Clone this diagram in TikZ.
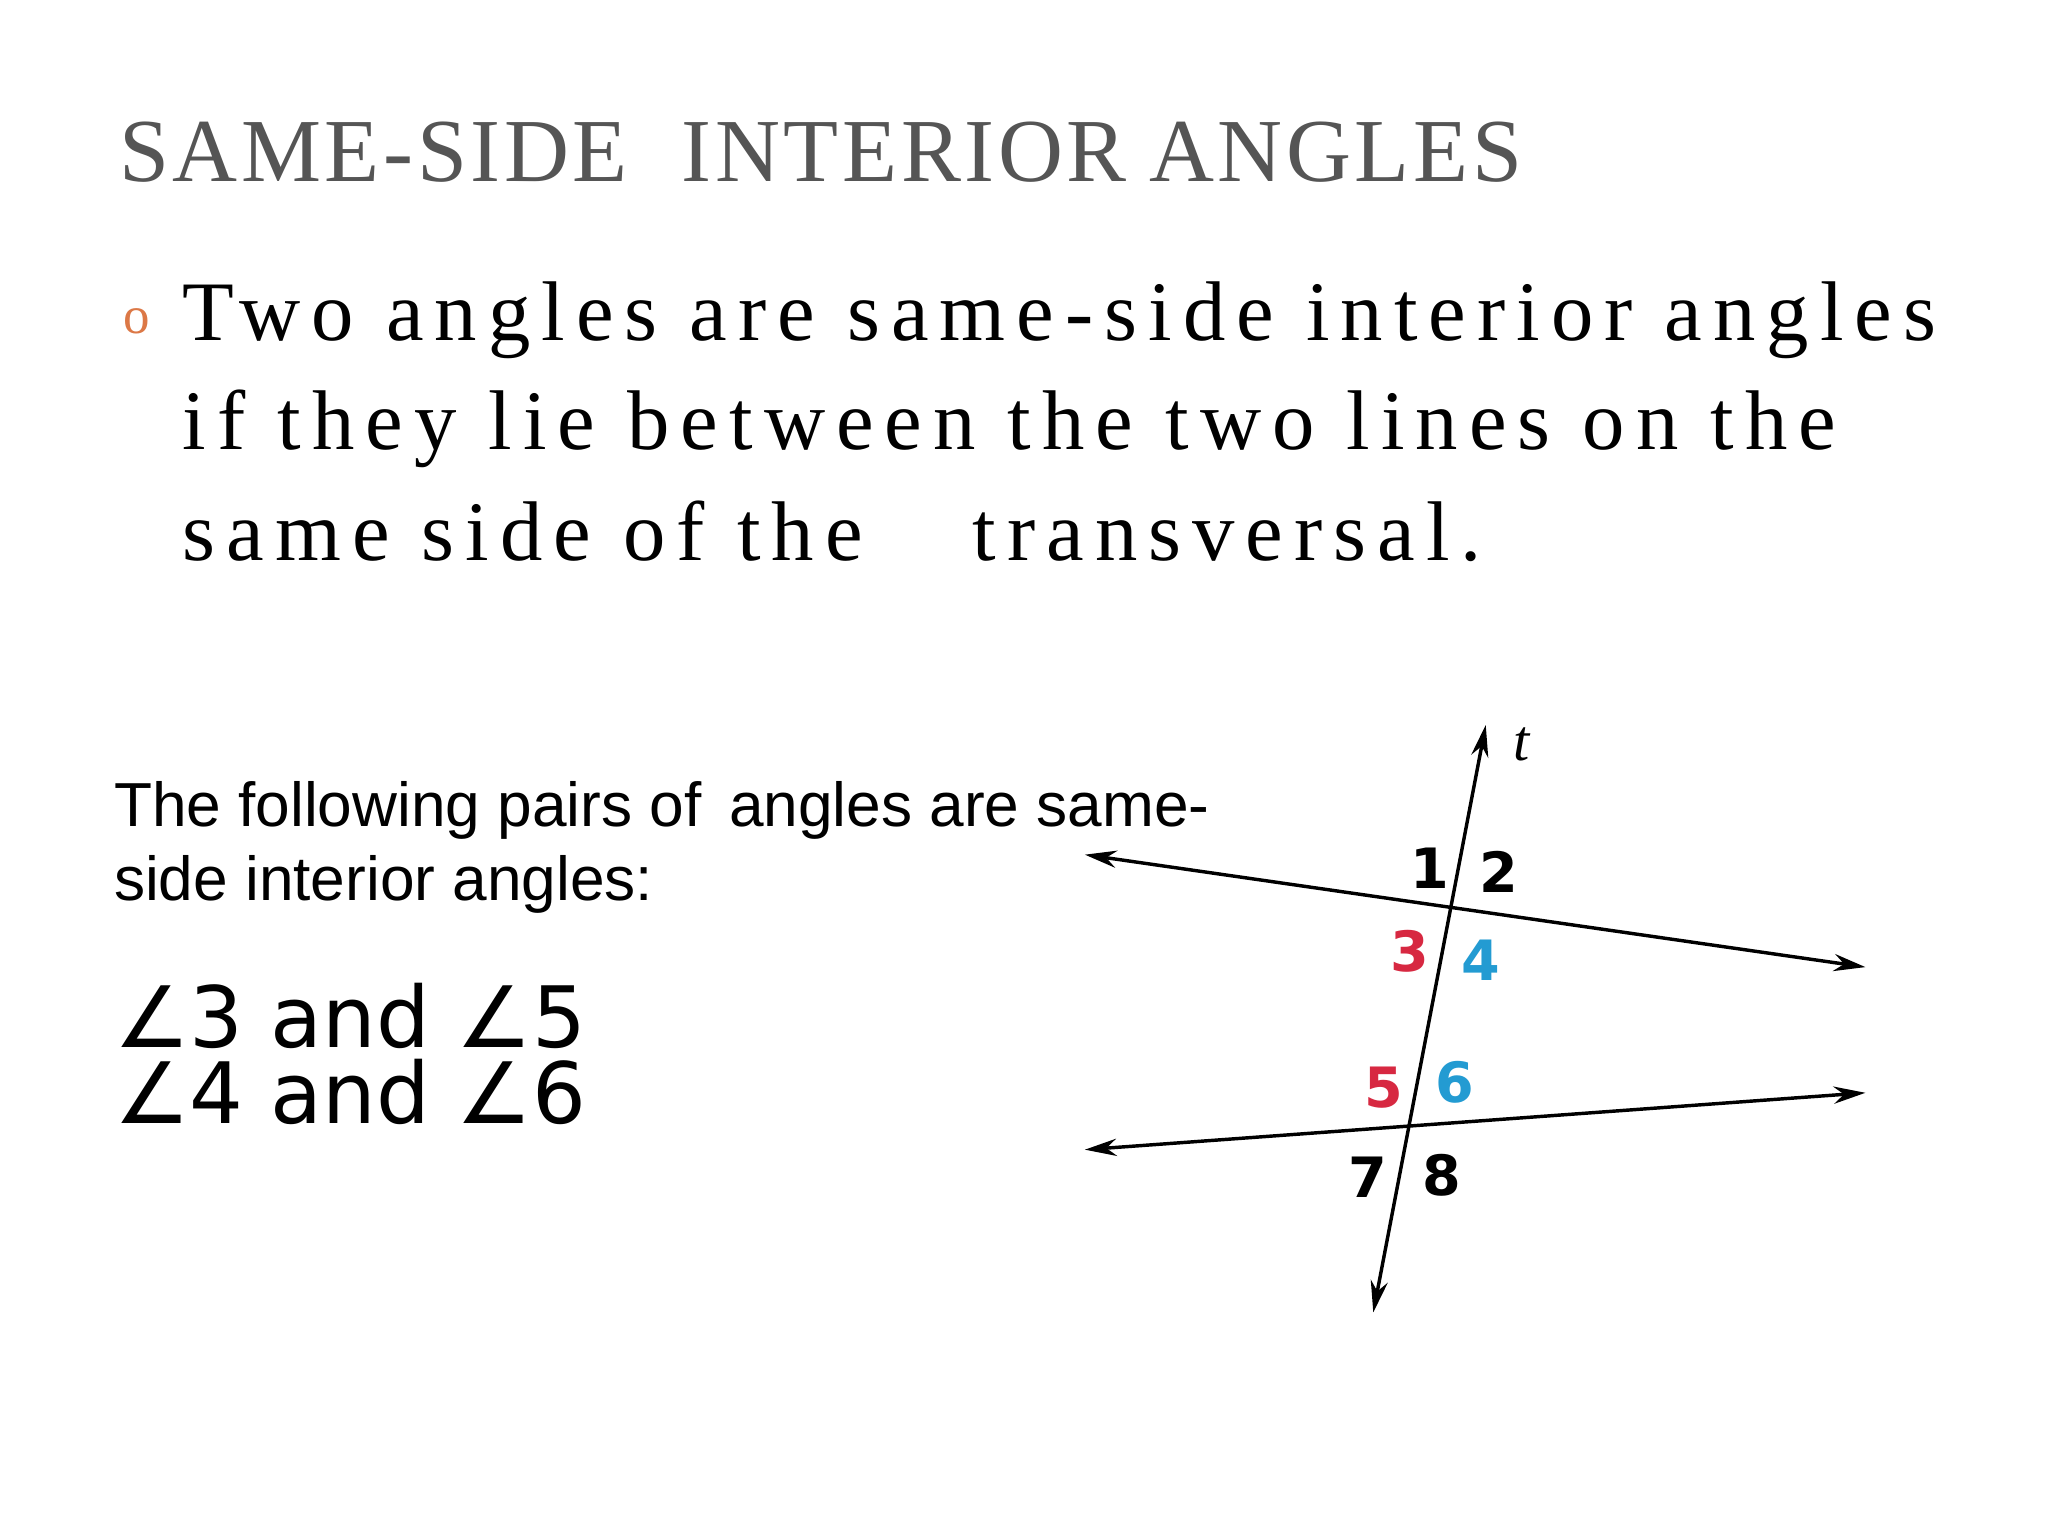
\documentclass[tikz,border=0pt]{standalone}
\usepackage{fontspec}
\setmainfont{Liberation Serif}
\newfontfamily\lsans{Liberation Sans}
\newfontfamily\dsans{DejaVu Sans}
\newfontfamily\dsansb{DejaVu Sans Bold}
\newfontfamily\spserif[LetterSpace=13]{Liberation Serif}
\newfontfamily\tserif[LetterSpace=4]{Liberation Serif}
\usetikzlibrary{arrows.meta}
\definecolor{tgray}{RGB}{85,85,85}
\definecolor{bull}{RGB}{220,120,70}
\definecolor{ared}{RGB}{215,40,65}
\definecolor{ablue}{RGB}{35,155,210}
\begin{document}
\begin{tikzpicture}[x=1pt,y=-1pt,
  ln/.style={line width=2.6pt,{Stealth[length=24pt,width=13pt]}-{Stealth[length=24pt,width=13pt]}},
  num/.style={font=\dsansb\fontsize{42}{42}\selectfont,inner sep=0pt},
  txt/.style={anchor=base west,inner sep=0pt}]
\useasboundingbox (0,0) rectangle (1548,1161);
\fill[white] (0,0) rectangle (1548,1161);
\node[txt,text=tgray,font=\tserif\fontsize{68}{68}\selectfont] (title) at (90,137) {SAME-SIDE\hspace{0.6em}INTERIOR\hspace{0.25em}ANGLES};
\node[txt,text=bull,font=\fontsize{40}{40}\selectfont] (bul) at (93,252) {o};
\node[txt,font=\spserif\fontsize{64}{64}\selectfont] (l1) at (138,257) {Two angles are same-side interior angles};
\node[txt,font=\spserif\fontsize{64}{64}\selectfont] (l2) at (138,340) {if they lie between the two lines on the};
\node[txt,font=\spserif\fontsize{64}{64}\selectfont] (l3) at (138,424) {same side of the\hspace{1.3em}transversal.};
\node[txt,font=\lsans\fontsize{47}{47}\selectfont] (p1) at (86,625) {The following pairs of\, angles are same-};
\node[txt,font=\lsans\fontsize{47}{47}\selectfont] (p2) at (86,681) {side interior angles:};
\node[txt,font=\dsans\fontsize{64}{64}\selectfont] (a1) at (86,792) {∠3 and ∠5};
\node[txt,font=\dsans\fontsize{64}{64}\selectfont] (a2) at (86,849) {∠4 and ∠6};
% diagram
\coordinate (tb) at (1038,992);
\coordinate (tt) at (1123,548);
\coordinate (aL) at (820,646);
\coordinate (aR) at (1410,731);
\coordinate (bL) at (820,869);
\coordinate (bR) at (1410,826);
\draw[ln] (aL) -- (aR);
\draw[ln] (bL) -- (bR);
\draw[ln] (tb) -- (tt);
\node[font=\itshape\fontsize{44}{44}\selectfont] (t) at (1150,563) {t};
\node[num] (n1) at (1081,656) {1};
\node[num] (n2) at (1133,659) {2};
\node[num,text=ared] (n3) at (1066,719) {3};
\node[num,text=ablue] (n4) at (1119,726) {4};
\node[num,text=ared] (n5) at (1046,822) {5};
\node[num,text=ablue] (n6) at (1100,818) {6};
\node[num] (n7) at (1034,890) {7};
\node[num] (n8) at (1090,888) {8};
\end{tikzpicture}
\end{document}
